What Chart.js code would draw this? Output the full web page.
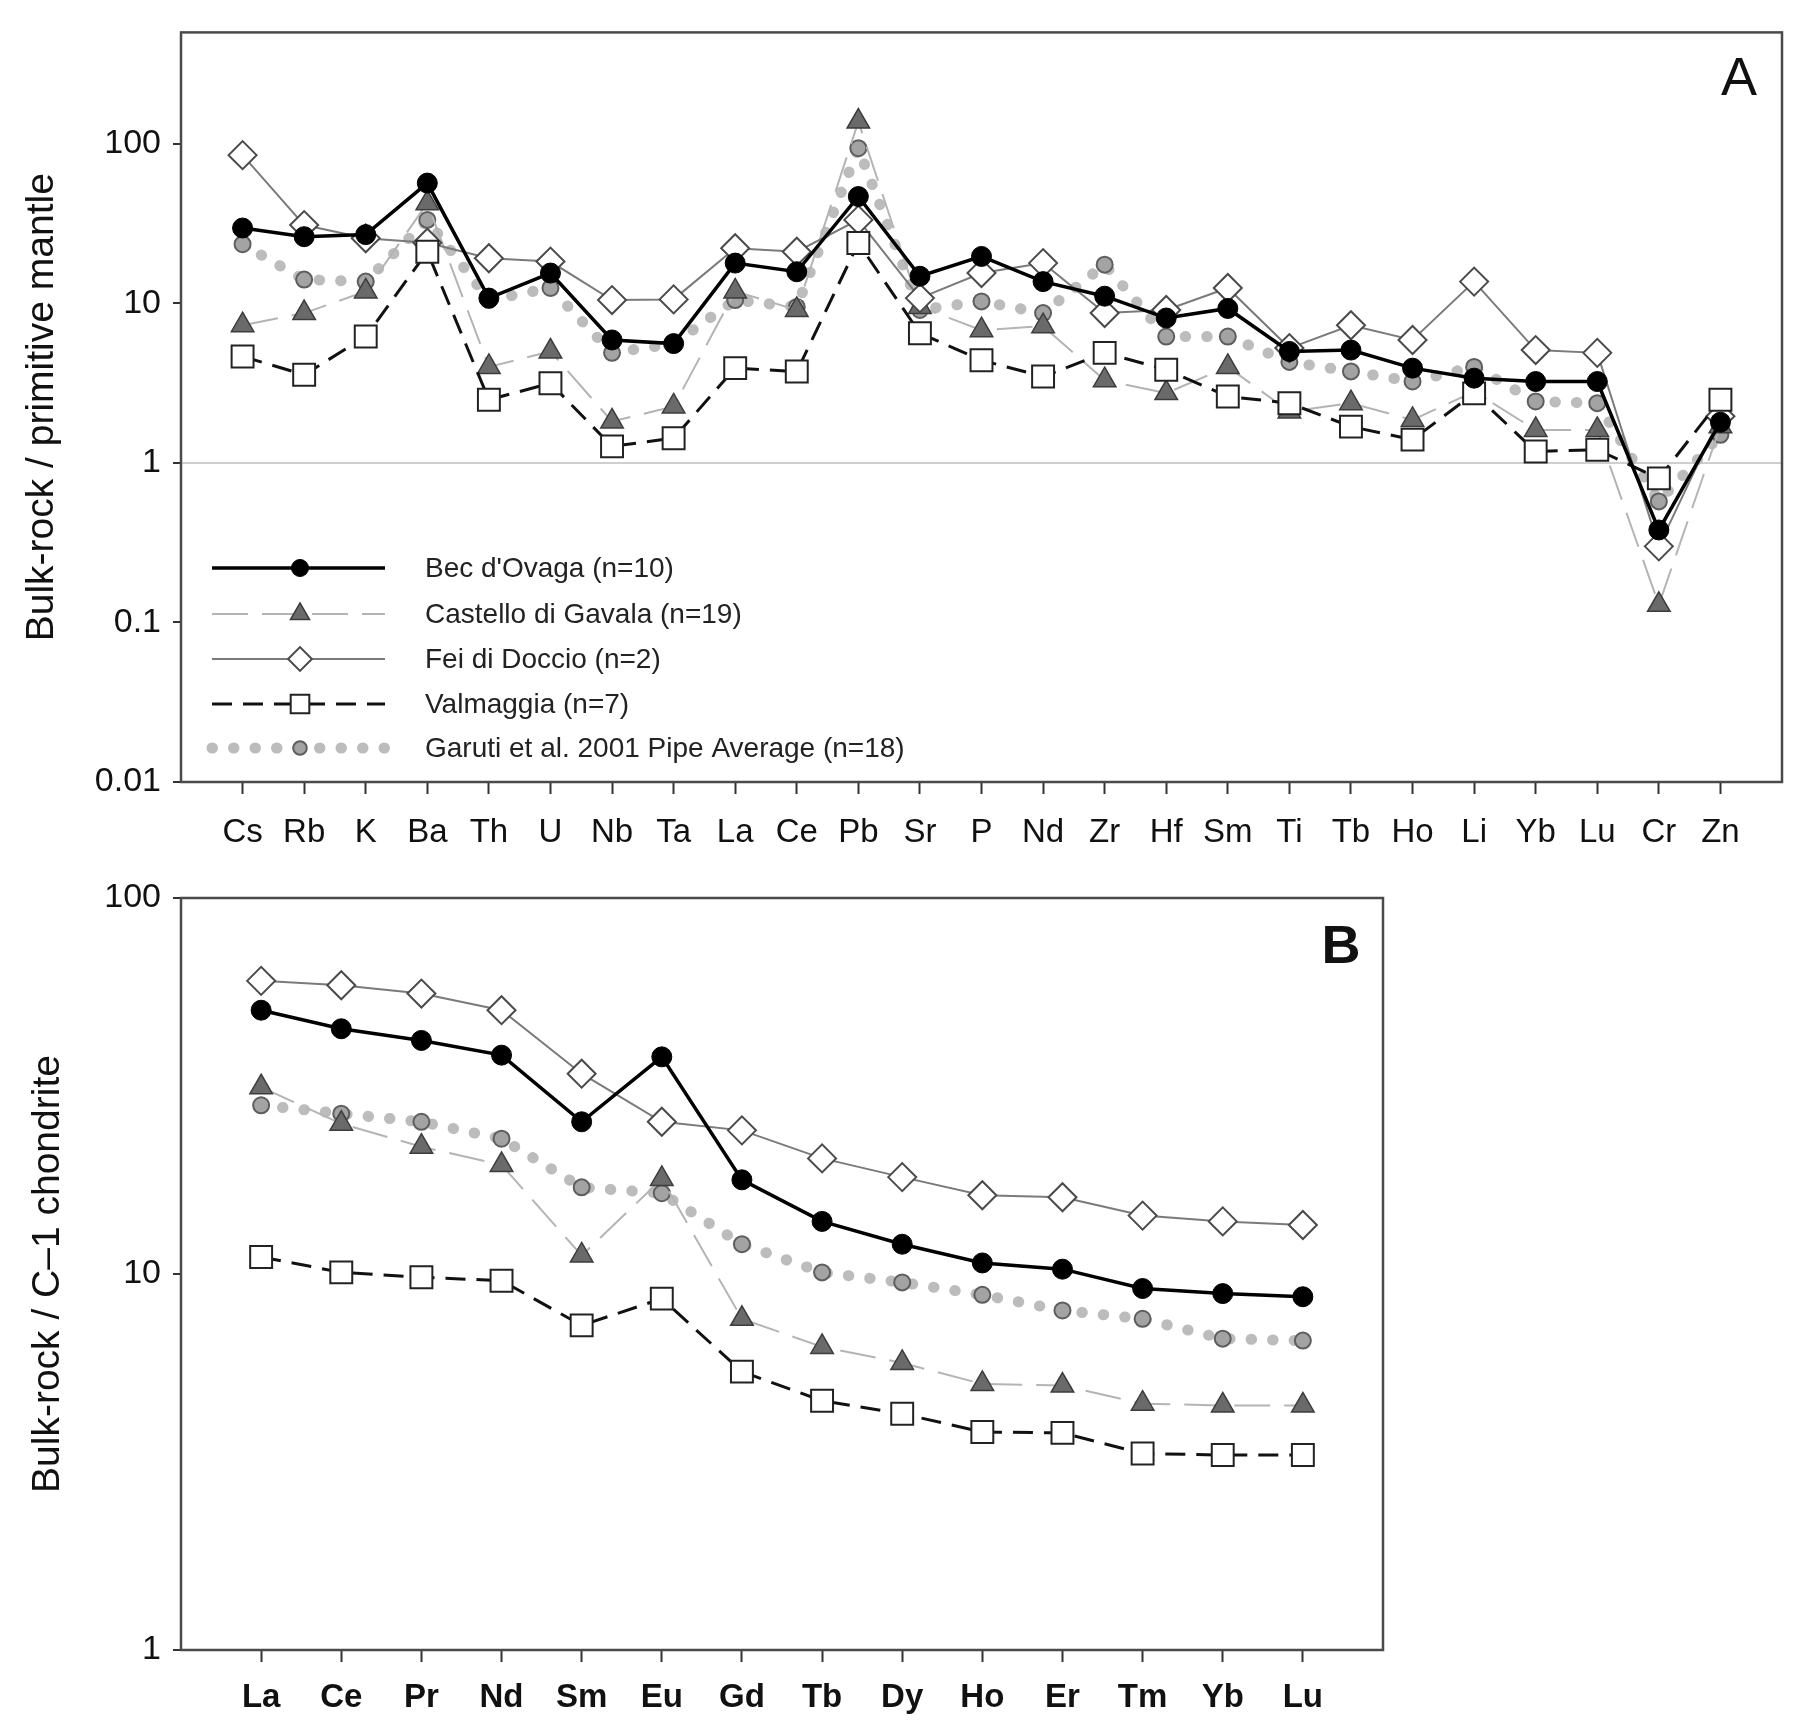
<!DOCTYPE html>
<html>
<head>
<meta charset="utf-8">
<script src="https://cdn.jsdelivr.net/npm/chart.js@4.4.1/dist/chart.umd.min.js"></script>
<style>
  html, body { margin: 0; padding: 0; background: #fff; }
  #wrap { position: relative; width: 1800px; height: 1730px; }
  canvas { position: absolute; left: 0; }
</style>
</head>
<body>
<div id="wrap">
  <canvas id="chartA" width="1800" height="860" style="top:0"></canvas>
  <canvas id="chartB" width="1800" height="870" style="top:860px"></canvas>
</div>
<script>
// panel A - primitive mantle normalised
var elementsA = ['Cs','Rb','K','Ba','Th','U','Nb','Ta','La','Ce','Pb','Sr','P','Nd','Zr','Hf','Sm','Ti','Tb','Ho','Li','Yb','Lu','Cr','Zn'];
var becA      = [29.7, 26.2, 27, 56.8, 10.8, 15.5, 5.9, 5.6, 17.9, 15.8, 46.8, 14.8, 19.7, 13.7, 11.1, 8.1, 9.3, 5.0, 5.1, 3.93, 3.4, 3.24, 3.24, 0.38, 1.8];
var castelloA = [7.3, 8.7, 11.9, 42.5, 4.0, 5.0, 1.82, 2.26, 11.9, 9.1, 138, 9.5, 6.8, 7.2, 3.3, 2.74, 4.0, 2.1, 2.37, 1.86, 2.8, 1.61, 1.61, 0.129, 1.7];
var feiA      = [85, 31, 25.6, 24, 19.2, 18.3, 10.5, 10.6, 22.2, 21.1, 33.4, 10.8, 15.5, 17.9, 8.7, 9.1, 12.5, 5.25, 7.3, 5.9, 13.7, 5.1, 4.9, 0.30, 1.96];
var valA      = [4.65, 3.57, 6.2, 21.1, 2.49, 3.16, 1.27, 1.43, 3.93, 3.74, 23.9, 6.5, 4.4, 3.48, 4.9, 3.84, 2.61, 2.37, 1.69, 1.40, 2.73, 1.18, 1.21, 0.80, 2.49];
var garutiA   = [23.5, 14.1, 13.7, 33.4, 10.5, 12.5, 4.9, 5.6, 10.5, 9.5, 94, 9.1, 10.3, 8.7, 17.5, 6.2, 6.2, 4.3, 3.75, 3.24, 4.0, 2.43, 2.37, 0.574, 1.5];
var ticksA    = [0.01, 0.1, 1, 10, 100];

// panel B - C-1 chondrite normalised REE
var elementsB = ['La','Ce','Pr','Nd','Sm','Eu','Gd','Tb','Dy','Ho','Er','Tm','Yb','Lu'];
var becB      = [50.3, 44.9, 41.8, 38.2, 25.4, 37.8, 17.8, 13.8, 12.0, 10.7, 10.3, 9.15, 8.87, 8.7];
var castelloB = [31.4, 25.1, 21.8, 19.5, 11.2, 17.9, 7.6, 6.4, 5.8, 5.1, 5.05, 4.52, 4.47, 4.47];
var feiB      = [60.2, 58.6, 55.7, 50.3, 34.1, 25.4, 24.1, 20.3, 18.1, 16.2, 16.0, 14.3, 13.8, 13.5];
var valB      = [11.1, 10.1, 9.8, 9.6, 7.3, 8.6, 5.5, 4.6, 4.25, 3.8, 3.78, 3.33, 3.3, 3.3];
var garutiB   = [28.1, 26.7, 25.4, 22.9, 17.0, 16.4, 12.0, 10.1, 9.5, 8.8, 8.0, 7.6, 6.73, 6.65];
var ticksB    = [1, 10, 100];

var seriesNames = ["Bec d'Ovaga (n=10)", 'Castello di Gavala (n=19)', 'Fei di Doccio (n=2)', 'Valmaggia (n=7)', 'Garuti et al. 2001 Pipe Average (n=18)'];

var FONT = "'Liberation Sans', Arial, Helvetica, sans-serif";

// look of each series (same order as seriesNames)
var styles = [
  { borderColor: '#000', borderWidth: 3.5, borderDash: [], pointStyle: 'circle', pointRadius: 10,
    pointBackgroundColor: '#000', pointBorderColor: '#000', pointBorderWidth: 1, order: 1 },
  { borderColor: '#b4b4b4', borderWidth: 2, borderDash: [36, 14], pointStyle: 'triangle', pointRadius: 13,
    pointBackgroundColor: '#6a6a6a', pointBorderColor: '#3c3c3c', pointBorderWidth: 1.5, order: 4 },
  { borderColor: '#7a7a7a', borderWidth: 2, borderDash: [], pointStyle: 'rectRot', pointRadius: 14,
    pointBackgroundColor: '#fff', pointBorderColor: '#4a4a4a', pointBorderWidth: 2, order: 3 },
  { borderColor: '#111', borderWidth: 3, borderDash: [20, 11], pointStyle: 'rect', pointRadius: 15.5,
    pointBackgroundColor: '#fff', pointBorderColor: '#222', pointBorderWidth: 2, order: 2 },
  { borderColor: '#bcbcbc', borderWidth: 11, borderDash: [0.5, 21], borderCapStyle: 'round', pointStyle: 'circle', pointRadius: 8,
    pointBackgroundColor: '#a3a3a3', pointBorderColor: '#5e5e5e', pointBorderWidth: 2, order: 5 }
];

function makeDatasets(lists) {
  var out = [];
  for (var s = 0; s < lists.length; s++) {
    var ds = Object.assign({ label: seriesNames[s], fill: false, tension: 0, pointHoverRadius: 0 }, styles[s]);
    ds.data = lists[s].map(function (v, i) { return { x: i + 1, y: v }; });
    out.push(ds);
  }
  return out;
}

// box around the plot area + panel letter
function framePlugin(letter, bold, lx, ly) {
  return {
    id: 'frame' + letter,
    afterDraw: function (chart) {
      var a = chart.chartArea, ctx = chart.ctx;
      ctx.save();
      ctx.strokeStyle = '#4a4a4a';
      ctx.lineWidth = 2.5;
      ctx.strokeRect(a.left, a.top, a.right - a.left, a.bottom - a.top);
      ctx.fillStyle = '#111';
      ctx.font = (bold ? 'bold ' : '') + '54px ' + FONT;
      ctx.textAlign = 'center';
      ctx.textBaseline = 'middle';
      ctx.fillText(letter, lx, ly);
      ctx.restore();
    }
  };
}

// legend drawn as line sample + marker + text, like the original figure
var legendPlugin = {
  id: 'sampleLegend',
  afterDatasetsDraw: function (chart) {
    var ctx = chart.ctx;
    var rowsY = [568, 614, 659, 704, 748];
    var x0 = 212, x1 = 385, xm = 300, xt = 425;
    ctx.save();
    for (var s = 0; s < styles.length; s++) {
      var st = styles[s], y = rowsY[s];
      ctx.beginPath();
      ctx.strokeStyle = st.borderColor;
      ctx.lineWidth = st.borderWidth;
      ctx.lineCap = st.borderCapStyle || 'butt';
      ctx.setLineDash(st.borderDash);
      ctx.moveTo(x0, y);
      ctx.lineTo(x1, y);
      ctx.stroke();
      ctx.setLineDash([]);
      ctx.lineCap = 'butt';
      ctx.fillStyle = st.pointBackgroundColor;
      ctx.strokeStyle = st.pointBorderColor;
      ctx.lineWidth = st.pointBorderWidth;
      Chart.helpers.drawPoint(ctx, { pointStyle: st.pointStyle, radius: st.pointRadius * 0.85, rotation: 0, borderWidth: st.pointBorderWidth }, xm, y);
      ctx.fillStyle = '#222';
      ctx.font = '28px ' + FONT;
      ctx.textAlign = 'left';
      ctx.textBaseline = 'middle';
      ctx.fillText(seriesNames[s], xt, y + 1);
    }
    ctx.restore();
  }
};

function buildChart(id, cats, lists, yMin, yMax, yTicks, yTitle, opts) {
  return new Chart(document.getElementById(id), {
    type: 'line',
    data: { datasets: makeDatasets(lists) },
    options: {
      responsive: false,
      animation: false,
      devicePixelRatio: 1,
      layout: { padding: { top: opts.top, right: opts.right, left: 0, bottom: 0 } },
      plugins: { legend: { display: false }, tooltip: { enabled: false } },
      scales: {
        x: {
          type: 'linear',
          min: 0,
          max: cats.length + 1,
          afterBuildTicks: function (scale) {
            scale.ticks = cats.map(function (c, i) { return { value: i + 1 }; });
          },
          afterFit: function (scale) { scale.height = opts.xHeight; },
          border: { display: false },
          grid: { drawOnChartArea: false, drawTicks: true, tickLength: 12, tickColor: '#333', tickWidth: 2 },
          ticks: {
            autoSkip: false, maxRotation: 0, padding: opts.xPad, color: '#111',
            font: { family: FONT, size: 33, weight: opts.xBold ? 'bold' : 'normal' },
            callback: function (v) { return cats[v - 1] || ''; }
          }
        },
        y: {
          type: 'logarithmic',
          min: yMin,
          max: yMax,
          afterBuildTicks: function (scale) {
            scale.ticks = yTicks.map(function (v) { return { value: v }; });
          },
          afterFit: function (scale) { scale.width = 181; },
          border: { display: false },
          grid: {
            drawOnChartArea: true, drawTicks: true, tickLength: 8, tickColor: '#333', tickWidth: 2,
            lineWidth: 2,
            color: function (c) { return (opts.refLine && c.tick && c.tick.value === 1) ? '#cfcfcf' : 'rgba(0,0,0,0)'; }
          },
          ticks: {
            padding: 12, color: '#111',
            font: { family: FONT, size: 34 },
            callback: function (v) { return String(v); }
          },
          title: {
            display: true, text: yTitle, color: '#111',
            font: { family: FONT, size: 39 },
            padding: { top: opts.titlePad, bottom: 0 }
          }
        }
      }
    },
    plugins: opts.plugins
  });
}

buildChart('chartA', elementsA, [becA, castelloA, feiA, valA, garutiA], 0.01, 500, ticksA,
  'Bulk-rock / primitive mantle',
  { top: 31, right: 18, xHeight: 78, xPad: 19, titlePad: 19, refLine: true, xBold: false,
    plugins: [legendPlugin, framePlugin('A', false, 1739, 80)] });

buildChart('chartB', elementsB, [becB, castelloB, feiB, valB, garutiB], 1, 100, ticksB,
  'Bulk-rock / C\u20131 chondrite',
  { top: 38, right: 417, xHeight: 80, xPad: 16, titlePad: 25, refLine: false, xBold: true,
    plugins: [framePlugin('B', true, 1341, 88)] });
</script>
</body>
</html>
